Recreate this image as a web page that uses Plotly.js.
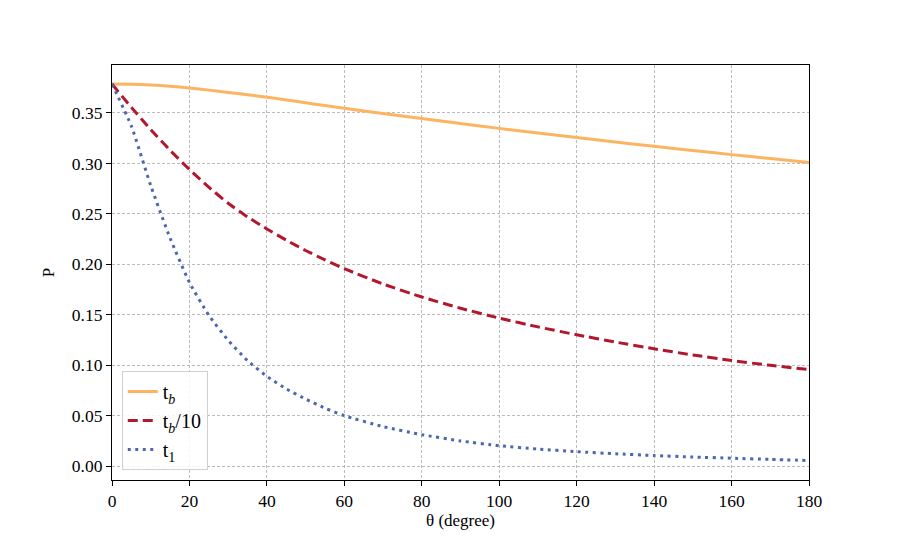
<!DOCTYPE html>
<html>
<head>
<meta charset="utf-8">
<script src="https://cdn.plot.ly/plotly-3.0.1.min.js"></script>
<style>
  html, body { margin: 0; padding: 0; background: #fff; }
  #chart { width: 900px; height: 540px; }
</style>
</head>
<body>
<div id="chart"></div>
<script>
// angle in degrees
const theta = [0, 5, 10, 15, 20, 25, 30, 35, 40, 45, 50, 55, 60, 70, 80, 90, 100, 110, 120, 130, 140, 150, 160, 170, 180];

// P for t_b
const pTb = [0.3786, 0.3784, 0.3777, 0.3765, 0.3747, 0.3726, 0.3703, 0.3680, 0.3656, 0.3629, 0.3601, 0.3573, 0.3546,
             0.3494, 0.3444, 0.3395, 0.3347, 0.3301, 0.3256, 0.3212, 0.3169, 0.3128, 0.3087, 0.3048, 0.3009];

// P for t_b/10
const pTb10 = [0.3786, 0.3555, 0.3335, 0.3130, 0.2940, 0.2765, 0.2605, 0.2470, 0.2350, 0.2240, 0.2137, 0.2044, 0.1957,
               0.1805, 0.1676, 0.1565, 0.1467, 0.1380, 0.1302, 0.1230, 0.1163, 0.1102, 0.1047, 0.0999, 0.0958];

// P for t_1
const pT1 = [0.3786, 0.3370, 0.2780, 0.2260, 0.1820, 0.1495, 0.1247, 0.1046, 0.0890, 0.0766, 0.0665, 0.0575, 0.0500,
             0.0392, 0.0312, 0.0250, 0.0203, 0.0170, 0.0144, 0.0123, 0.0105, 0.0091, 0.0079, 0.0067, 0.0056];

const xTicks = [0, 20, 40, 60, 80, 100, 120, 140, 160, 180];
const yTicks = [0.00, 0.05, 0.10, 0.15, 0.20, 0.25, 0.30, 0.35];

const serif = "Liberation Serif, DejaVu Serif, serif";

const traces = [
  { x: theta, y: pTb, name: "t<sub><i>b</i></sub>", type: "scatter", mode: "lines",
    line: { color: "#fdb462", width: 3, shape: "spline", smoothing: 0.5 } },
  { x: theta, y: pTb10, name: "t<sub><i>b</i></sub>/10", type: "scatter", mode: "lines",
    line: { color: "#b2182b", width: 3, dash: "10px,5px", shape: "spline", smoothing: 0.5 } },
  { x: theta, y: pT1, name: "t<sub>1</sub>", type: "scatter", mode: "lines",
    line: { color: "#4c66b0", width: 3, dash: "3px,4.5px", shape: "spline", smoothing: 0.5 } }
];

const axisBase = {
  showline: true, linecolor: "#000", linewidth: 1.1, mirror: true,
  ticks: "outside", ticklen: 5, tickwidth: 1, tickcolor: "#000",
  showgrid: true, gridcolor: "#b4b4b4", gridwidth: 0.9, griddash: "3px,2px",
  zeroline: false,
  tickfont: { family: serif, size: 17.5, color: "#000" }
};

const layout = {
  width: 900, height: 540,
  margin: { l: 112, r: 91, t: 65, b: 60 },
  paper_bgcolor: "#fff", plot_bgcolor: "#fff",
  font: { family: serif, color: "#000" },
  xaxis: { ...axisBase, range: [0, 180], tickvals: xTicks,
    title: { text: "θ (degree)", font: { family: serif, size: 17 }, standoff: 4 } },
  yaxis: { ...axisBase, range: [-0.0137, 0.3975], tickvals: yTicks, tickformat: ".2f",
    title: { text: "P", font: { family: serif, size: 17 }, standoff: 12 } },
  legend: {
    x: 0.014, y: 0.024, xanchor: "left", yanchor: "bottom",
    bgcolor: "rgba(255,255,255,0.85)", bordercolor: "#d0d0d0", borderwidth: 1,
    font: { family: serif, size: 20, color: "#000" },
    tracegroupgap: 0
  },
  showlegend: true
};

Plotly.newPlot("chart", traces, layout, { displayModeBar: false, staticPlot: true });
</script>
</body>
</html>
